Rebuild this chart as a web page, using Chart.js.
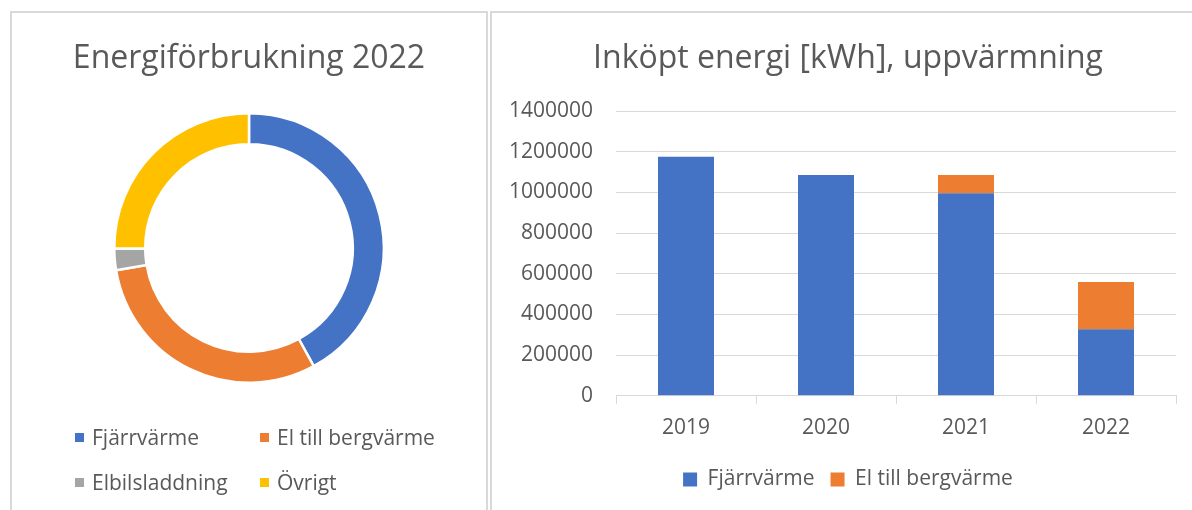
<!DOCTYPE html>
<html lang="sv">
<head>
<meta charset="UTF-8">
<title>Energiförbrukning</title>
<script src="https://cdn.jsdelivr.net/npm/chart.js"></script>
<style>
  html, body { margin: 0; padding: 0; background: #fff; overflow: hidden; }
  body { width: 1192px; height: 510px; position: relative; font-family: "Open Sans", sans-serif; color: #595959; }
  .panel { position: absolute; border: 2px solid #d9d9d9; box-sizing: border-box; }
  #leftPanel { left: 10px; top: 11px; width: 478px; height: 530px; }
  #rightPanel { left: 490px; top: 11px; width: 740px; height: 530px; }
  canvas { position: absolute; }
  #donutChart { left: 12px; top: 13px; }
  #barChart { left: 492px; top: 13px; }
  #donutLegend {
    position: absolute; left: 75px; top: 415px;
    display: grid; grid-template-columns: 185px 200px;
    font-size: 21px; line-height: 45px;
  }
  .item { display: flex; align-items: center; height: 45px; white-space: nowrap; }
  .swatch { width: 9px; height: 9px; margin-right: 8px; }
</style>
</head>
<body>
<div class="panel" id="leftPanel"></div>
<div class="panel" id="rightPanel"></div>
<canvas id="donutChart" width="474" height="497"></canvas>
<canvas id="barChart" width="700" height="497"></canvas>
<div id="donutLegend"></div>

<script>
// Energiförbrukning 2022 (kWh)
const donutLabels = ["Fjärrvärme", "El till bergvärme", "Elbilsladdning", "Övrigt"];
const donutValues = [327000, 236000, 20000, 195000];
const donutColors = ["#4472C4", "#ED7D31", "#A5A5A5", "#FFC000"];

// Inköpt energi [kWh], uppvärmning
const years = ["2019", "2020", "2021", "2022"];
const fjarrvarme = [1175000, 1086000, 996000, 327000];
const elBergvarme = [0, 0, 90000, 232000];
const yTicks = [0, 200000, 400000, 600000, 800000, 1000000, 1200000, 1400000];

Chart.defaults.font.family = "'Open Sans', sans-serif";
Chart.defaults.color = "#595959";
Chart.defaults.animation = false;

// doughnut
new Chart(document.getElementById("donutChart"), {
    type: "doughnut",
    data: {
        labels: donutLabels,
        datasets: [{
            data: donutValues,
            backgroundColor: donutColors,
            borderColor: "#fff",
            borderWidth: 2.5
        }]
    },
    options: {
        responsive: false,
        cutout: "77%",
        layout: { padding: { bottom: 126 } },
        plugins: {
            legend: { display: false },
            tooltip: { enabled: false },
            title: {
                display: true,
                text: "Energiförbrukning 2022",
                font: { size: 32, weight: "normal" },
                color: "#595959",
                padding: { top: 26.4, bottom: 34.2 }
            }
        }
    }
});

// legend in two columns
const legendBox = document.getElementById("donutLegend");
donutLabels.forEach((label, i) => {
    const item = document.createElement("div");
    item.className = "item";
    item.innerHTML = `<span class="swatch" style="background:${donutColors[i]}"></span>${label}`;
    legendBox.appendChild(item);
});

// stacked bars
new Chart(document.getElementById("barChart"), {
    type: "bar",
    data: {
        labels: years,
        datasets: [
            { label: "Fjärrvärme", data: fjarrvarme, backgroundColor: "#4472C4" },
            { label: "El till bergvärme", data: elBergvarme, backgroundColor: "#ED7D31" }
        ]
    },
    options: {
        responsive: false,
        categoryPercentage: 1,
        barPercentage: 0.4,
        layout: { padding: { left: 17, right: 5, bottom: 10 } },
        scales: {
            x: {
                stacked: true,
                grid: { display: true, drawOnChartArea: false, drawTicks: true, tickLength: 8, color: "#d9d9d9", offset: true },
                border: { display: true, color: "#d9d9d9" },
                ticks: { font: { size: 21 }, padding: 12, color: "#595959" }
            },
            y: {
                stacked: true,
                min: 0,
                max: 1400000,
                afterBuildTicks: axis => { axis.ticks = yTicks.map(v => ({ value: v })); },
                afterFit: axis => { axis.width = 107; },
                grid: { color: "#d9d9d9", drawTicks: false },
                border: { display: false },
                ticks: { font: { size: 21 }, padding: 23, color: "#595959", callback: v => String(v) }
            },
            // empty right-hand spacer so the title centres like the original
            spacer: {
                type: "linear",
                position: "right",
                afterFit: axis => { axis.width = 11; },
                grid: { display: false },
                border: { display: false },
                ticks: { display: false }
            }
        },
        plugins: {
            tooltip: { enabled: false },
            title: {
                display: true,
                text: "Inköpt energi [kWh], uppvärmning",
                font: { size: 32, weight: "normal" },
                color: "#595959",
                padding: { top: 26.4, bottom: 33.2 }
            },
            legend: {
                position: "bottom",
                labels: { font: { size: 21 }, boxWidth: 14, boxHeight: 14, padding: 16, color: "#595959" }
            }
        }
    }
});
</script>
</body>
</html>
